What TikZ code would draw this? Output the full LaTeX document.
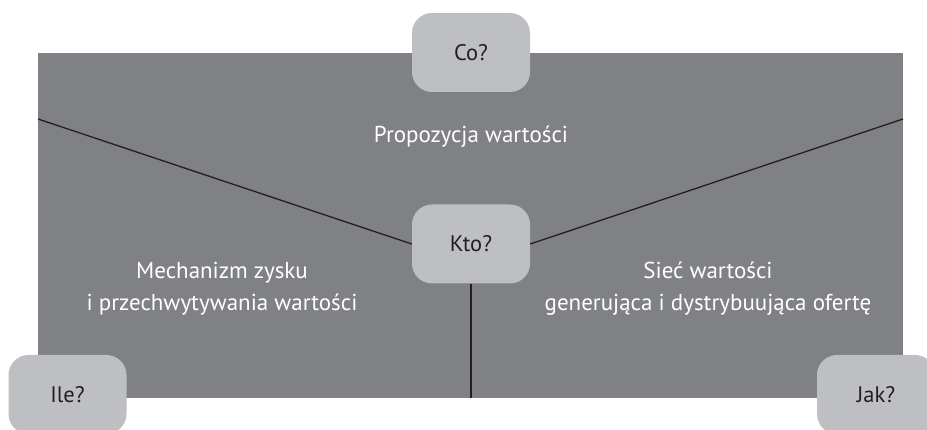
\documentclass[tikz,border=0pt]{standalone}
\usepackage{fontspec}
\setmainfont{PT Sans}
\usepackage{tikz}
\usetikzlibrary{positioning}
\usepackage{xcolor}

\definecolor{panelgray}{RGB}{128,129,133}
\definecolor{boxgray}{RGB}{190,191,195}
\definecolor{inkdark}{RGB}{35,31,32}

\begin{document}
\begin{tikzpicture}[
    x=1pt, y=-1pt,
    panel/.style={fill=panelgray, inner sep=0pt},
    qbox/.style={fill=boxgray, rounded corners=20pt, minimum width=118pt,
      minimum height=79pt, inner sep=0pt, text=inkdark, font=\fontsize{22.5}{27}\selectfont},
    caption/.style={text=white, align=center, font=\fontsize{23}{32}\selectfont},
    divider/.style={draw=inkdark, line width=1.3pt}
]

  % --- FRAME ---
  \clip (0,0) rectangle (927,430);

  % --- BACKGROUND PANEL ---
  \node[panel, minimum width=865pt, minimum height=345pt] (panel) at (470.5,225.5) {};

  % --- QUESTION BOXES ---
  \node[qbox] (co) at (471,52.5) {Co?};
  \node[qbox] (kto) at (471,244) {Kto?};
  \node[qbox] (ile) at (67.5,394.5) {Ile?};
  \node[qbox] (jak) at (876,394.5) {Jak?};

  % --- DIVIDING LINES ---
  \coordinate (lt) at (38,119);
  \coordinate (rt) at (903,119);
  \coordinate (bt) at (471,398);
  \draw[divider] (lt) -- (kto.west);
  \draw[divider] (rt) -- (kto.east);
  \draw[divider] (kto.south) -- (bt);

  % --- SECTION CAPTIONS ---
  \node[caption] (value) at (471,137) {Propozycja wartości};
  \node[caption] (profit) at (222,289) {Mechanizm zysku\\i przechwytywania wartości};
  \node[caption] (network) at (708,289) {Sieć wartości\\generująca i dystrybuująca ofertę};

\end{tikzpicture}
\end{document}
